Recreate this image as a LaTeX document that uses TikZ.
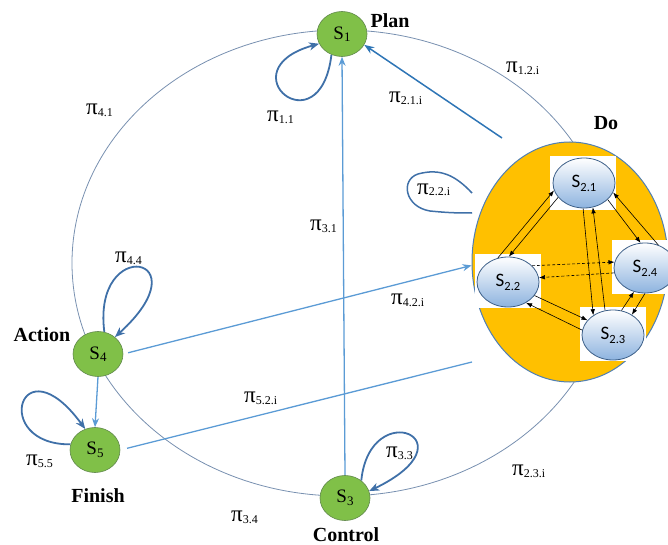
\documentclass[tikz,border=0pt]{standalone}
\usepackage{fontspec}
\setmainfont{Liberation Serif}
\newfontfamily\calfont{Carlito}
\usetikzlibrary{arrows.meta,shapes.geometric}
\pgfdeclarelayer{bg}\pgfdeclarelayer{fg}\pgfsetlayers{bg,main,fg}
\definecolor{lblue}{HTML}{5B9BD5}
\definecolor{dblue}{HTML}{2E75B6}
\definecolor{lpblue}{HTML}{3F70A8}
\definecolor{ring}{HTML}{7890B0}
\definecolor{gfill}{RGB}{128,192,72}
\definecolor{gedge}{RGB}{95,135,75}
\definecolor{yel}{HTML}{FFC000}
\definecolor{yedge}{HTML}{4F7FB5}
\definecolor{ibot}{HTML}{8DB3DF}
\definecolor{imid}{HTML}{DCEAF7}
\definecolor{iedge}{HTML}{3C5F88}
\newcommand\SL[1]{{\fontsize{19}{19}\selectfont S}\raisebox{-0.25em}{\fontsize{13}{13}\selectfont #1}}
\newcommand\SI[1]{{\calfont\fontsize{19}{19}\selectfont S\raisebox{-0.2em}{\fontsize{12.5}{12.5}\selectfont #1}}}
\newcommand\PL[1]{{\fontsize{23}{23}\selectfont π}\raisebox{-0.2em}{\fontsize{12}{12}\selectfont #1}}
\tikzset{
  gnode/.style={ellipse, minimum width=50pt, minimum height=45pt, inner sep=0pt, fill=gfill, draw=gedge, line width=0.6pt},
  inode/.style={ellipse, minimum width=62pt, minimum height=50pt, inner sep=0pt, top color=white, middle color=imid, bottom color=ibot, draw=iedge, line width=0.8pt},
  wbox/.style={rectangle, minimum width=66pt, minimum height=54pt, fill=white, inner sep=0pt},
  lab/.style={font=\fontsize{20}{20}\selectfont\bfseries, inner sep=0pt},
  pil/.style={inner sep=0pt, anchor=base west},
  conn/.style={draw=lblue, line width=1.3pt},
  arr/.style={conn, -{Stealth[length=9pt,width=7pt]}},
  darr/.style={draw=dblue, line width=1.5pt, -{Stealth[length=10pt,width=7.5pt]}},
  loopa/.style={draw=lpblue, line width=1.8pt, -{Stealth[length=10pt,width=8pt,inset=3pt]}},
  loopl/.style={draw=lpblue, line width=1.5pt},
  ringl/.style={draw=ring, line width=0.8pt},
  iarr/.style={draw=black, line width=0.6pt, -{Latex[length=6pt,width=4.5pt]}},
  idash/.style={iarr, dash pattern=on 3pt off 2pt}
}
\begin{document}
\begin{tikzpicture}[x=1pt,y=-1pt]
\useasboundingbox (0,0) rectangle (668,545);
% main nodes
\node[ellipse, minimum width=196pt, minimum height=240pt, fill=yel, draw=yedge, line width=1pt] (do) at (570,262) {};
\node[wbox] (r21) at (583,183) {};
\node[wbox] (r22) at (508,281) {};
\node[wbox] (r23) at (613,334) {};
\node[wbox] (r24) at (645,267) {};
\node[inode] (s21) at (584,183) {\SI{2.1}};
\node[inode] (s22) at (508,282) {\SI{2.2}};
\node[inode] (s23) at (613,335) {\SI{2.3}};
\node[inode] (s24) at (645,268) {\SI{2.4}};
\node[gnode] (s1) at (342,34) {\SL{1}};
\node[gnode] (s3) at (345,498) {\SL{3}};
\node[gnode] (s4) at (98,354) {\SL{4}};
\node[gnode] (s5) at (95,450) {\SL{5}};
% bold labels
\node[lab] (lplan) at (390,21) {Plan};
\node[lab] (lact) at (42,335) {Action};
\node[lab] (lfin) at (98,496) {Finish};
\node[lab] (lctl) at (346,535) {Control};
\node[lab] (ldo) at (606,123) {Do};
% pi labels
\node[pil] (p12) at (506,73) {\PL{1.2.i}};
\node[pil] (p21) at (389,103) {\PL{2.1.i}};
\node[pil] (p11) at (267,122) {\PL{1.1}};
\node[pil] (p41) at (86,115) {\PL{4.1}};
\node[pil] (p44) at (115,262) {\PL{4.4}};
\node[pil] (p31) at (310,230) {\PL{3.1}};
\node[pil] (p22) at (417,194) {\PL{2.2.i}};
\node[pil] (p42) at (391,304) {\PL{4.2.i}};
\node[pil] (p52) at (244,402) {\PL{5.2.i}};
\node[pil] (p55) at (26,465) {\PL{5.5}};
\node[pil] (p33) at (386,457) {\PL{3.3}};
\node[pil] (p23) at (512,475) {\PL{2.3.i}};
\node[pil] (p34) at (231,521) {\PL{3.4}};
% background connectors
\begin{pgfonlayer}{bg}
\draw[ringl] (342,263) ellipse [x radius=270, y radius=233];
\draw[arr] (s3.90) -- (s1.270);
\coordinate (dotop) at (502,138);
\draw[darr] (dotop) -- (s1.334);
\draw[arr, shorten <=5pt] (s4.0) -- (do.182);
\coordinate (s5end) at (472,362);
\draw[conn, shorten <=7pt] (s5.0) -- (s5end);
\draw[arr] (s4.270) -- (s5.90);
\draw[loopa] (s1.243) .. controls (320,150) and (225,70) .. (s1.203);
\draw[loopa] (s4.74) .. controls (92,235) and (205,255) .. (s4.45);
\draw[loopa] (s5.167) .. controls (-10,445) and (20,340) .. (s5.115);
\draw[loopa] (s3.47) .. controls (370,395) and (475,440) .. (s3.16);
\coordinate (la) at (472,193);
\coordinate (lb) at (472,213);
\draw[loopl] (la) .. controls (455,175) and (440,168) .. (418,174) .. controls (400,180) and (405,207) .. (430,211) .. controls (450,213) and (460,213) .. (lb);
\end{pgfonlayer}
% inner arrows
\begin{pgfonlayer}{fg}
\draw[iarr] (s22.113) -- (s21.194);
\draw[iarr] (s21.209) -- (s22.88);
\draw[iarr] (s21.268) -- (s23.135);
\draw[iarr] (s23.108) -- (s21.290);
\draw[iarr] (s21.325) -- (s24.100);
\draw[iarr] (s24.60) -- (s21.342);
\draw[idash] (s22.34) -- (s24.169);
\draw[idash] (s24.189) -- (s22.8);
\draw[iarr] (s22.333) -- (s23.150);
\draw[iarr] (s23.171) -- (s22.311);
\draw[iarr] (s23.71) -- (s24.245);
\draw[iarr] (s24.270) -- (s23.47);
\end{pgfonlayer}
\end{tikzpicture}
\end{document}
